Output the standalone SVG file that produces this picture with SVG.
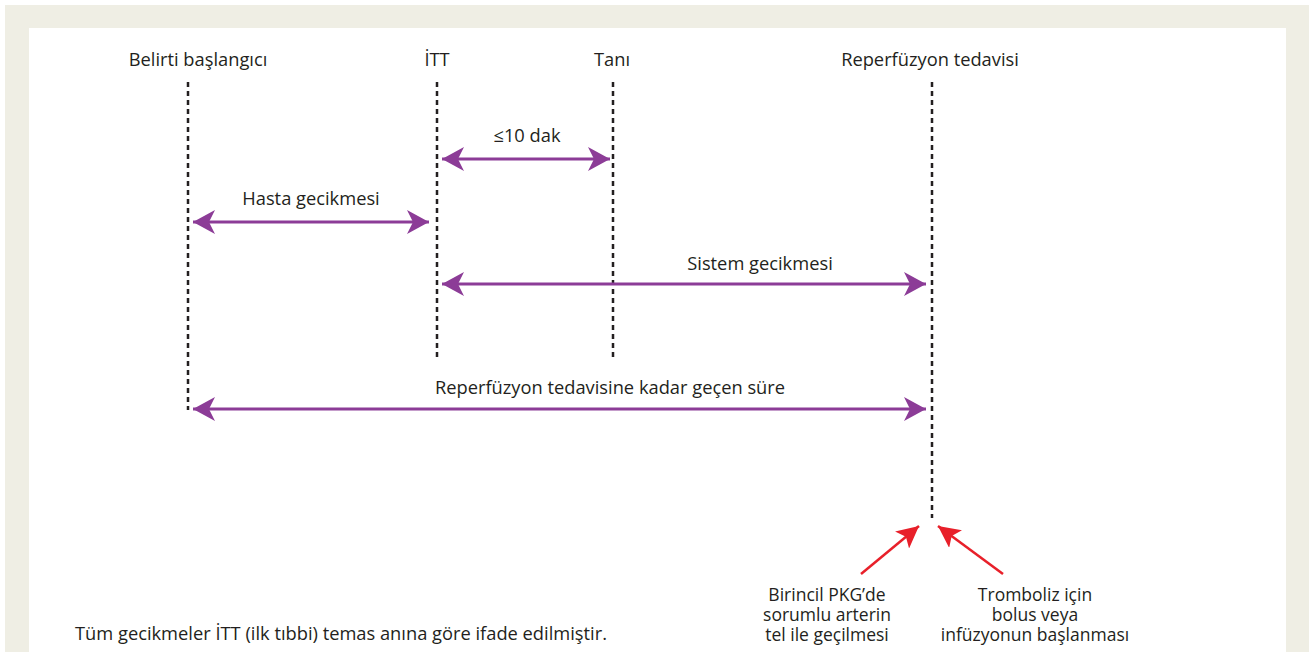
<svg xmlns="http://www.w3.org/2000/svg" width="1314" height="652" viewBox="0 0 1314 652">
<defs>
<style>
text{font-family:"Open Sans","Liberation Sans",sans-serif;font-size:18.3px;fill:#231f20;text-anchor:middle}
.sm{font-size:17.5px}
.dash{stroke:#231f20;stroke-width:2.5;stroke-dasharray:5 4;fill:none}
.pa{stroke:#8c3c97;stroke-width:3;fill:none;marker-start:url(#pl);marker-end:url(#pr)}
.ra{stroke:#e8202a;stroke-width:2.5;fill:none;marker-end:url(#rr)}
</style>
<marker id="pr" markerUnits="userSpaceOnUse" viewBox="0 0 22 24" refX="22" refY="12" markerWidth="22" markerHeight="24" orient="auto">
<path d="M0,0 L22,12 L0,24 L6,12 Z" fill="#8c3c97"/>
</marker>
<marker id="pl" markerUnits="userSpaceOnUse" viewBox="0 0 22 24" refX="0" refY="12" markerWidth="22" markerHeight="24" orient="auto">
<path d="M22,0 L0,12 L22,24 L16,12 Z" fill="#8c3c97"/>
</marker>
<marker id="rr" markerUnits="userSpaceOnUse" viewBox="0 0 22 22" refX="22" refY="11" markerWidth="22" markerHeight="22" orient="auto">
<path d="M0,0 L22,11 L0,22 L5,11 Z" fill="#e8202a"/>
</marker>
</defs>
<rect x="5" y="5" width="1304" height="647" fill="#efeee4"/>
<rect x="29" y="28" width="1257" height="624" fill="#ffffff"/>
<g id="belirti">
<text x="198" y="66">Belirti başlangıcı</text>
<line class="dash" x1="188" y1="82" x2="188" y2="410"/>
</g>
<g id="itt">
<text x="437" y="66">İTT</text>
<line class="dash" x1="437" y1="82" x2="437" y2="358"/>
</g>
<g id="tani">
<text x="612" y="66">Tanı</text>
<line class="dash" x1="613" y1="82" x2="613" y2="358"/>
</g>
<g id="reperfuzyon">
<text x="930" y="66">Reperfüzyon tedavisi</text>
<line class="dash" x1="932" y1="82" x2="932" y2="518"/>
</g>
<g id="connectors">
<line class="pa" x1="442" y1="159" x2="610" y2="159"/>
<line class="pa" x1="193" y1="222" x2="429" y2="222"/>
<line class="pa" x1="442" y1="284" x2="926" y2="284"/>
<line class="pa" x1="193" y1="409" x2="926" y2="409"/>
<line class="ra" x1="861" y1="574" x2="919" y2="526"/>
<line class="ra" x1="1003" y1="574" x2="938" y2="526"/>
</g>
<g id="labels">
<text x="527" y="142">≤10 dak</text>
<text x="311" y="205">Hasta gecikmesi</text>
<text x="760" y="270">Sistem gecikmesi</text>
<text x="610" y="394">Reperfüzyon tedavisine kadar geçen süre</text>
</g>
<g id="birincil">
<text class="sm" x="827" y="601">Birincil PKG’de</text>
<text class="sm" x="827" y="621">sorumlu arterin</text>
<text class="sm" x="827" y="641">tel ile geçilmesi</text>
</g>
<g id="tromboliz">
<text class="sm" x="1035" y="601">Tromboliz için</text>
<text class="sm" x="1035" y="621">bolus veya</text>
<text class="sm" x="1035" y="641">infüzyonun başlanması</text>
</g>
<g id="note">
<text x="75" y="640" style="text-anchor:start">Tüm gecikmeler İTT (ilk tıbbi) temas anına göre ifade edilmiştir.</text>
</g>
</svg>
